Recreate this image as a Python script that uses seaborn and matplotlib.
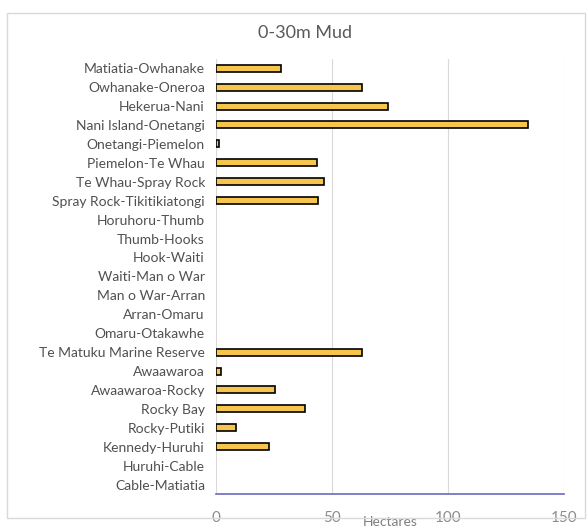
import pandas as pd
import seaborn as sns
import matplotlib.pyplot as plt
from matplotlib.patches import Rectangle

# values (hectares of 0-30m mud per segment)
segments = ["Matiatia-Owhanake", "Owhanake-Oneroa", "Hekerua-Nani", "Nani Island-Onetangi",
            "Onetangi-Piemelon", "Piemelon-Te Whau", "Te Whau-Spray Rock",
            "Spray Rock-Tikitikiatongi", "Horuhoru-Thumb", "Thumb-Hooks", "Hook-Waiti",
            "Waiti-Man o War", "Man o War-Arran", "Arran-Omaru", "Omaru-Otakawhe",
            "Te Matuku Marine Reserve", "Awaawaroa", "Awaawaroa-Rocky", "Rocky Bay",
            "Rocky-Putiki", "Kennedy-Huruhi", "Huruhi-Cable", "Cable-Matiatia"]
hectares = [28, 62.7, 74, 134.6, 1.5, 43.6, 46.6, 44, 0, 0, 0, 0, 0, 0, 0,
            62.9, 2, 25.4, 38.4, 8.7, 22.7, 0, 0]
xticks = [0, 50, 100, 150]

df = pd.DataFrame({"Segment": segments, "Hectares": hectares})

sns.set_style("white")
plt.rcParams["font.family"] = ["Lato", "DejaVu Sans"]

fig = plt.figure(figsize=(5.87, 5.29), dpi=100)
ax = fig.add_axes([0.368, 0.066, 0.593, 0.823])

sns.barplot(data=df, x="Hectares", y="Segment", orient="h", color="#F5C54E",
            edgecolor="black", linewidth=1.2, width=0.37, saturation=1, ax=ax)

# empty segments have no visible bar in the original
for p in ax.patches:
    if p.get_width() == 0:
        p.set_linewidth(0)

ax.set_xlim(0, 150)
ax.set_xticks(xticks)
ax.xaxis.grid(True, color="#D9D9D9", linewidth=0.8)
ax.set_axisbelow(True)
for s in ["top", "right", "left"]:
    ax.spines[s].set_visible(False)
ax.spines["bottom"].set_color("#6A6ABF")
ax.spines["bottom"].set_linewidth(1.2)
ax.tick_params(axis="x", length=0, pad=12, labelsize=11, labelcolor="#8C8C8C")
ax.tick_params(axis="y", length=0, pad=8, labelsize=10, labelcolor="#505050")
ax.set_ylabel("")
ax.set_xlabel("Hectares", fontsize=10, color="#7F7F7F", labelpad=-6)

fig.text(0.52, 0.938, "0-30m Mud", ha="center", va="center", fontsize=13, color="#595959")

# light frame around the chart area
fig.patches.append(Rectangle((0.012, 0.02), 0.985, 0.955, transform=fig.transFigure,
                             fill=False, edgecolor="#D9D9D9", linewidth=1))

fig.savefig("out.png", dpi=100)
